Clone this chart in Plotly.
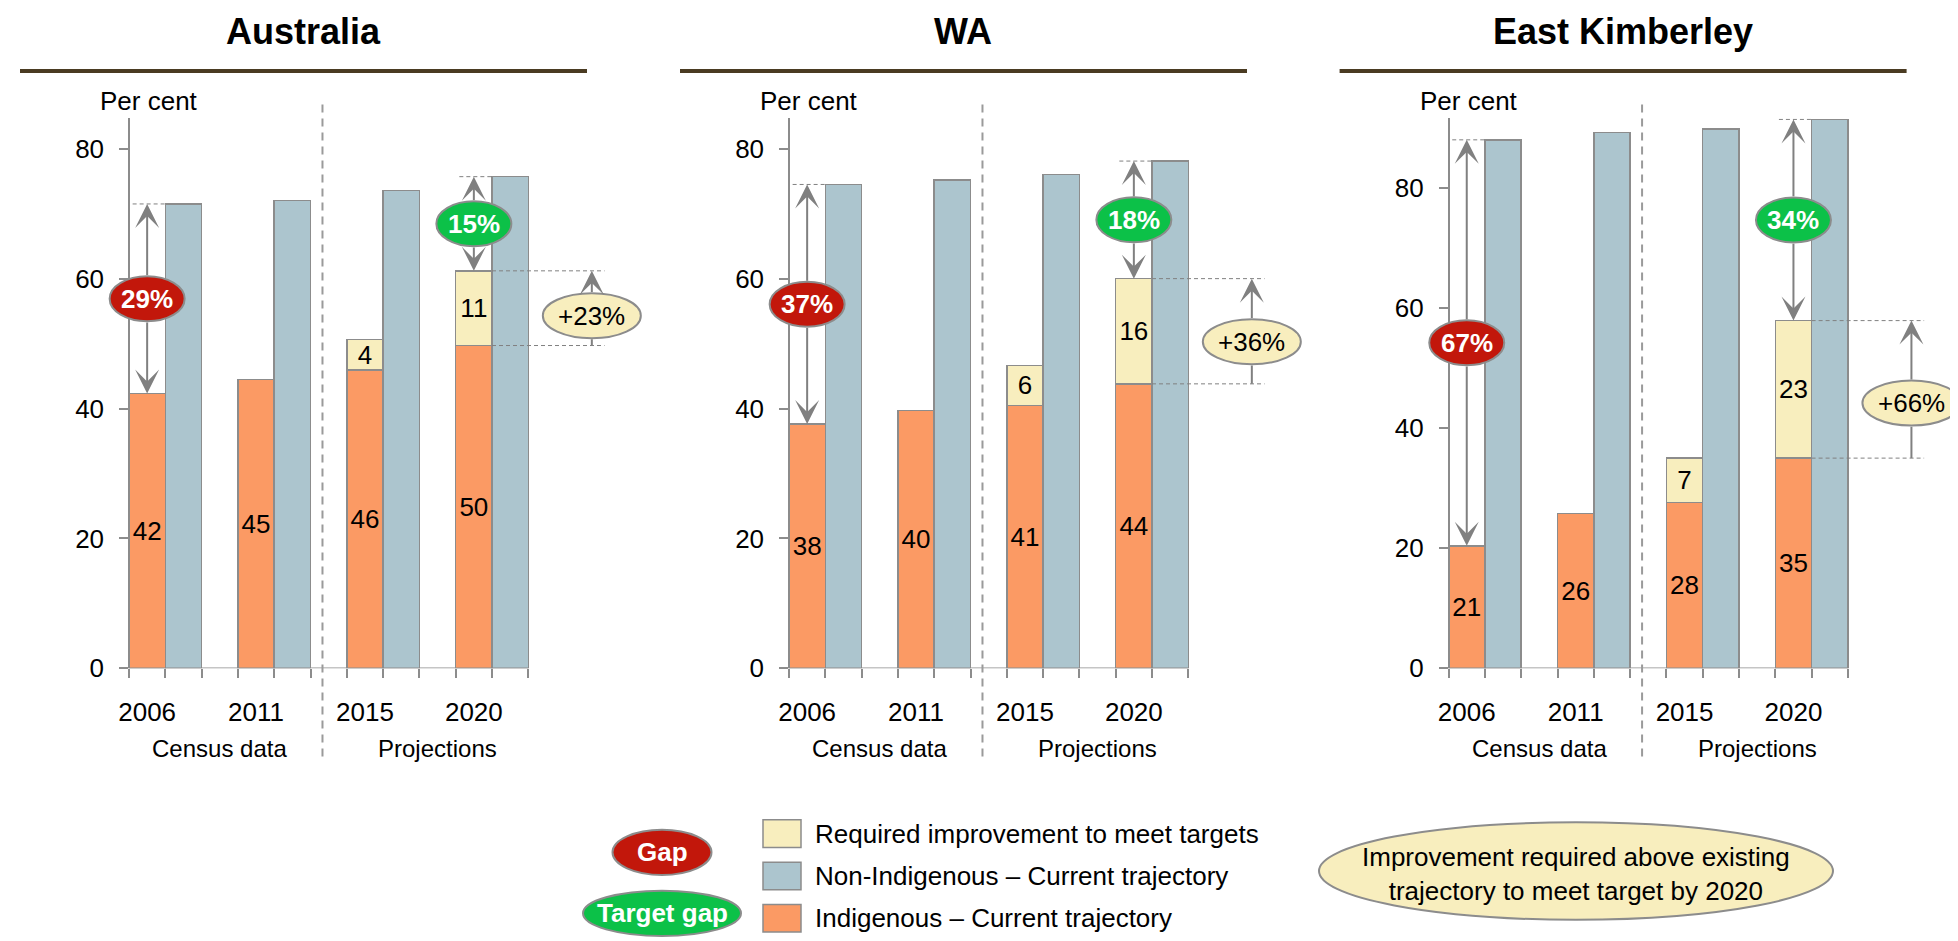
import plotly.graph_objects as go

W, H = 1958, 941
FONT = "Liberation Sans, Arial, Helvetica, sans-serif"

# ---------------- data ----------------
years = ["2006", "2011", "2015", "2020"]
regions = ["Australia", "WA", "East Kimberley"]

aus_indigenous = [42.3, 44.5, 45.9, 49.7]
aus_required = [None, None, 4.7, 11.5]
aus_non_indigenous = [71.5, 72.0, 73.6, 75.7]
aus_indigenous_labels = ["42", "45", "46", "50"]
aus_required_labels = ["", "", "4", "11"]

wa_indigenous = [37.6, 39.7, 40.5, 43.8]
wa_required = [None, None, 6.1, 16.2]
wa_non_indigenous = [74.5, 75.2, 76.0, 78.1]
wa_indigenous_labels = ["38", "40", "41", "44"]
wa_required_labels = ["", "", "6", "16"]

ek_indigenous = [20.4, 25.8, 27.6, 35.0]
ek_required = [None, None, 7.4, 22.9]
ek_non_indigenous = [88.0, 89.2, 89.8, 91.4]
ek_indigenous_labels = ["21", "26", "28", "35"]
ek_required_labels = ["", "", "7", "23"]

gap_labels = ["29%", "37%", "67%"]
target_gap_labels = ["15%", "18%", "34%"]
improvement_labels = ["+23%", "+36%", "+66%"]
y_max = [84.7, 84.7, 91.6]
y_ticks = [0, 20, 40, 60, 80]
period_labels = ["Census data", "Projections"]
legend_labels = ["Required improvement to meet targets",
                 "Non-Indigenous \u2013 Current trajectory",
                 "Indigenous \u2013 Current trajectory"]
legend_gap_labels = ["Gap", "Target gap"]
legend_note = "Improvement required above existing<br>trajectory to meet target by 2020"

panels = [
    (aus_indigenous, aus_required, aus_non_indigenous, aus_indigenous_labels, aus_required_labels),
    (wa_indigenous, wa_required, wa_non_indigenous, wa_indigenous_labels, wa_required_labels),
    (ek_indigenous, ek_required, ek_non_indigenous, ek_indigenous_labels, ek_required_labels),
]

# ---------------- style ----------------
ORANGE = "#FB9A64"
BLUE = "#ACC5CE"
BEIGE = "#F8EEBE"
OUTLINE = "#8C8C8C"
ARROW = "#808080"
RED = "#C2170B"
GREEN = "#0CC148"
RULE = "#4A3B22"
DASH = "#9A9A9A"

AXIS_X0 = [121, 781, 1440.6]
UNIT = 36.3
X_LO, X_HI = -1.6, 14.2
Y_ZERO_PX, Y_TOP_PX = 671, 112


def px(x):
    return x / W


def py(y):
    return 1 - y / H


def label(xref, yref, x, y, text, size=26, color="black", bold=False, xanchor="center"):
    return dict(xref=xref, yref=yref, x=x, y=y, xanchor=xanchor, yanchor="middle",
                text="<b>%s</b>" % text if bold else text, showarrow=False,
                font=dict(size=size, color=color, family=FONT))


fig = go.Figure()
shapes = []
annotations = []

for k, (ind, req, non, ind_lab, req_lab) in enumerate(panels):
    sfx = "" if k == 0 else str(k + 1)
    xr, yr = "x" + sfx, "y" + sfx
    x0 = AXIS_X0[k]
    ppu = (Y_ZERO_PX - Y_TOP_PX) / y_max[k]
    ind_x = [3 * i + 0.5 for i in range(len(years))]
    non_x = [3 * i + 1.5 for i in range(len(years))]

    fig.add_trace(go.Bar(x=ind_x, y=ind, width=1, xaxis=xr, yaxis=yr,
                         marker=dict(color=ORANGE, line=dict(color=OUTLINE, width=1.5)),
                         text=ind_lab, texttemplate="%{text}", textposition="inside",
                         insidetextanchor="middle", textangle=0,
                         textfont=dict(size=26, color="black", family=FONT),
                         hoverinfo="skip", showlegend=False))
    fig.add_trace(go.Bar(x=ind_x, y=req, width=1, xaxis=xr, yaxis=yr,
                         marker=dict(color=BEIGE, line=dict(color=OUTLINE, width=1.5)),
                         text=req_lab, texttemplate="%{text}", textposition="inside",
                         insidetextanchor="middle", textangle=0,
                         textfont=dict(size=26, color="black", family=FONT),
                         hoverinfo="skip", showlegend=False))
    fig.add_trace(go.Bar(x=non_x, y=non, width=1, xaxis=xr, yaxis=yr,
                         marker=dict(color=BLUE, line=dict(color=OUTLINE, width=1.5)),
                         hoverinfo="skip", showlegend=False))

    fig.update_layout(**{
        "xaxis" + sfx: dict(
            domain=[px(x0 + X_LO * UNIT), px(x0 + X_HI * UNIT)],
            range=[X_LO, X_HI], anchor=yr, showgrid=False, zeroline=False, showline=False,
            tickmode="array", tickvals=ind_x, ticktext=years, ticks="",
            tickfont=dict(size=26, color="black", family=FONT), ticklabelstandoff=26,
            minor=dict(tickmode="array", tickvals=list(range(12)), ticks="outside",
                       ticklen=9, tickwidth=1.5, tickcolor=OUTLINE, showgrid=False),
        ),
        "yaxis" + sfx: dict(
            domain=[py(Y_ZERO_PX), py(Y_TOP_PX)], range=[0, y_max[k]],
            anchor="free", position=px(x0), showgrid=False, zeroline=False,
            showline=True, linecolor=OUTLINE, linewidth=1.5,
            tickmode="array", tickvals=y_ticks, ticks="outside", ticklen=9,
            tickwidth=1.5, tickcolor=OUTLINE, ticklabelstandoff=10,
            tickfont=dict(size=26, color="black", family=FONT),
        ),
    })

    # x baseline
    shapes.append(dict(type="line", xref=xr, yref=yr, x0=0, x1=11, y0=0, y1=0,
                       line=dict(color=OUTLINE, width=1.5), layer="above"))
    # separator census / projections
    shapes.append(dict(type="line", xref=xr, yref="paper", x0=5.33, x1=5.33,
                       y0=py(98), y1=py(762), line=dict(color=DASH, width=2, dash="8px,6px")))
    # title + rule
    annotations.append(label("paper", "paper", px(x0 + 174), py(24), regions[k], size=36, bold=True))
    shapes.append(dict(type="line", xref="paper", yref="paper", x0=px(x0 - 109), x1=px(x0 + 458),
                       y0=py(64), y1=py(64), line=dict(color=RULE, width=4)))
    annotations.append(label("paper", "paper", px(x0 + 20), py(95), "Per cent"))
    annotations.append(label(xr, "paper", 2.5, py(753), period_labels[0], size=24))
    annotations.append(label(xr, "paper", 8.5, py(753), period_labels[1], size=24))

    half_h = 22.5 / ppu

    # ---- Gap (2006) ----
    gx = ind_x[0]
    g_lo, g_hi = ind[0], non[0]
    g_mid = (g_lo + g_hi) / 2
    shapes.append(dict(type="line", xref=xr, yref=yr, x0=gx - 0.4, x1=gx + 0.5, y0=g_hi, y1=g_hi,
                       line=dict(color=ARROW, width=1, dash="4px,3px")))
    # ---- Target gap (2020) ----
    tx = ind_x[3]
    t_lo, t_hi = ind[3] + req[3], non[3]
    t_mid = (t_lo + t_hi) / 2
    shapes.append(dict(type="line", xref=xr, yref=yr, x0=tx - 0.4, x1=tx + 0.5, y0=t_hi, y1=t_hi,
                       line=dict(color=ARROW, width=1, dash="4px,3px")))
    # ---- Improvement (2020) ----
    ix = 12.75
    i_lo, i_hi = ind[3], ind[3] + req[3]
    i_mid = i_lo + 0.4 * req[3]
    for yy in (i_lo, i_hi):
        shapes.append(dict(type="line", xref=xr, yref=yr, x0=10, x1=13.1, y0=yy, y1=yy,
                           line=dict(color=ARROW, width=1, dash="4px,3px")))

    def arrow(x, y_from, y_to, head=True):
        return dict(xref=xr, yref=yr, axref=xr, ayref=yr, x=x, y=y_to, ax=x, ay=y_from,
                    text="", showarrow=True, arrowhead=3 if head else 0, arrowsize=2,
                    arrowwidth=2, arrowcolor=ARROW, standoff=0)

    annotations += [
        arrow(gx, g_mid + half_h, g_hi), arrow(gx, g_mid - half_h, g_lo),
        arrow(tx, t_mid + half_h, t_hi), arrow(tx, t_mid - half_h, t_lo),
        arrow(ix, i_mid + half_h, i_hi), arrow(ix, i_mid - half_h, i_lo, head=False),
    ]

    def ellipse(xc, yc, w, h, fill):
        return dict(type="circle", xref=xr, yref=yr, xsizemode="pixel", ysizemode="pixel",
                    xanchor=xc, yanchor=yc, x0=-w / 2, x1=w / 2, y0=-h / 2, y1=h / 2,
                    fillcolor=fill, line=dict(color=OUTLINE, width=2), layer="above")

    shapes.append(ellipse(gx, g_mid, 75, 45, RED))
    shapes.append(ellipse(tx, t_mid, 75, 45, GREEN))
    shapes.append(ellipse(ix, i_mid, 98, 45, BEIGE))
    annotations.append(label(xr, yr, gx, g_mid, gap_labels[k], color="white", bold=True))
    annotations.append(label(xr, yr, tx, t_mid, target_gap_labels[k], color="white", bold=True))
    annotations.append(label(xr, yr, ix, i_mid, improvement_labels[k]))

# ---------------- legend ----------------
legend_colors = [BEIGE, BLUE, ORANGE]
legend_rows = [839, 882, 925]
for lab, col, yc in zip(legend_labels, legend_colors, legend_rows):
    shapes.append(dict(type="rect", xref="paper", yref="paper", x0=px(755), x1=px(793),
                       y0=py(yc + 14), y1=py(yc - 14), fillcolor=col,
                       line=dict(color=OUTLINE, width=1.5)))
    annotations.append(label("paper", "paper", px(805), py(yc), lab, xanchor="left"))

for lab, col, yc, w in zip(legend_gap_labels, [RED, GREEN], [858, 920], [99, 158]):
    shapes.append(dict(type="circle", xref="paper", yref="paper", x0=px(654 - w / 2),
                       x1=px(654 + w / 2), y0=py(yc + 23), y1=py(yc - 23), fillcolor=col,
                       line=dict(color=OUTLINE, width=2)))
    annotations.append(label("paper", "paper", px(654), py(yc), lab, color="white", bold=True))

shapes.append(dict(type="circle", xref="paper", yref="paper", x0=px(1568 - 257), x1=px(1568 + 257),
                   y0=py(877 + 49.5), y1=py(877 - 49.5), fillcolor=BEIGE,
                   line=dict(color=OUTLINE, width=2)))
note = label("paper", "paper", px(1568), py(880), legend_note)
note["align"] = "center"
annotations.append(note)

fig.update_layout(
    width=W, height=H, margin=dict(l=0, r=0, t=0, b=0),
    paper_bgcolor="white", plot_bgcolor="white",
    barmode="stack", showlegend=False,
    uniformtext=dict(mode="show", minsize=24),
    font=dict(family=FONT, color="black"),
    shapes=shapes, annotations=annotations,
)

fig.write_html("out.html")
